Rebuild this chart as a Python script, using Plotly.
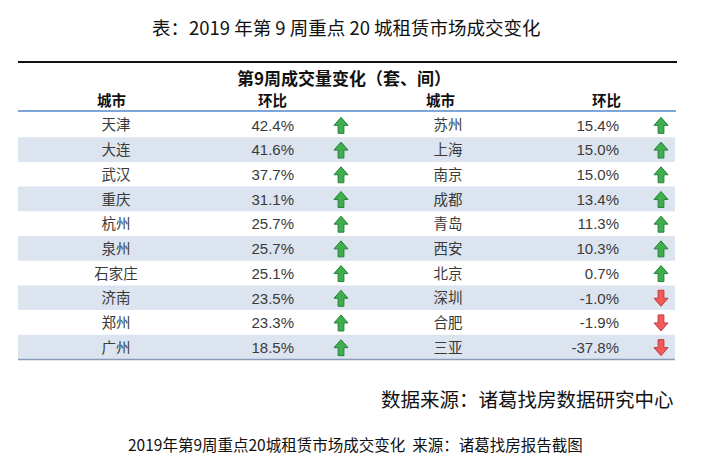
import plotly.graph_objects as go

# ---- data ----
title_text = "表：2019 年第 9 周重点 20 城租赁市场成交变化"
table_title = "第9周成交量变化（套、间）"
col_headers = ["城市", "环比", "城市", "环比"]
cities_left = ["天津", "大连", "武汉", "重庆", "杭州", "泉州", "石家庄", "济南", "郑州", "广州"]
chg_left = [42.4, 41.6, 37.7, 31.1, 25.7, 25.7, 25.1, 23.5, 23.3, 18.5]
cities_right = ["苏州", "上海", "南京", "成都", "青岛", "西安", "北京", "深圳", "合肥", "三亚"]
chg_right = [15.4, 15.0, 15.0, 13.4, 11.3, 10.3, 0.7, -1.0, -1.9, -37.8]
source_text = "数据来源：诸葛找房数据研究中心"
caption_text = "2019年第9周重点20城租赁市场成交变化  来源：诸葛找房报告截图"

# ---- layout constants ----
W, H = 707, 460
X0, X1 = 10, 667
ROW_TOP, ROW_H = 104.5, 24.7
COL_CITY = [108, 440]
COL_PCT = [286, 611]
COL_ARROW = [333, 653]
CJK = "Noto Sans CJK SC"
NUM = "Liberation Sans"
TXT = "#3a3a3a"

fig = go.Figure()
shapes = []

n = len(cities_left)
# alternating bands
for k in range(n):
    if k % 2 == 1:
        shapes.append(dict(type="rect", xref="x", yref="y", x0=X0, x1=X1,
                           y0=ROW_TOP + k * ROW_H, y1=ROW_TOP + (k + 1) * ROW_H,
                           fillcolor="#dce4ef", line=dict(width=0), layer="below"))
# rules
shapes.append(dict(type="line", xref="x", yref="y", x0=X0, x1=X1 + 2, y0=54, y1=54,
                   line=dict(color="#111111", width=2)))
shapes.append(dict(type="line", xref="x", yref="y", x0=X0, x1=X1 + 1, y0=103, y1=103,
                   line=dict(color="#7fa6d9", width=2)))
shapes.append(dict(type="line", xref="x", yref="y", x0=X0, x1=X1, y0=ROW_TOP + n * ROW_H,
                   y1=ROW_TOP + n * ROW_H, line=dict(color="#8a9bb8", width=1.5)))


def arrow_path(cx, cy, up):
    hw, sw = 7.0, 2.9   # head half-width, stem half-width
    h = 16.0
    s = -1 if up else 1
    tip = cy + s * h / 2
    base = cy - s * h / 2
    neck = cy + s * 0.0
    pts = [(cx, tip), (cx + hw, neck), (cx + sw, neck), (cx + sw, base),
           (cx - sw, base), (cx - sw, neck), (cx - hw, neck)]
    return "M " + " L ".join(f"{x:.2f},{y:.2f}" for x, y in pts) + " Z"


for side, (cities, vals) in enumerate([(cities_left, chg_left), (cities_right, chg_right)]):
    ys = [ROW_TOP + (k + 0.5) * ROW_H + 2 for k in range(n)]
    fig.add_trace(go.Scatter(x=[COL_CITY[side]] * n, y=ys, mode="text", text=cities,
                             textposition="middle center",
                             textfont=dict(family=CJK, size=14.5, color=TXT),
                             hoverinfo="skip", showlegend=False))
    fig.add_trace(go.Scatter(x=[COL_PCT[side]] * n, y=ys, mode="text",
                             text=[f"{v:.1f}%" for v in vals],
                             textposition="middle left",
                             textfont=dict(family=NUM, size=15, color=TXT),
                             hoverinfo="skip", showlegend=False))
    for k, v in enumerate(vals):
        up = v >= 0
        shapes.append(dict(type="path", xref="x", yref="y",
                           path=arrow_path(COL_ARROW[side], ROW_TOP + (k + 0.5) * ROW_H + 0.5, up),
                           fillcolor="#3fae4e" if up else "#f05a5a",
                           line=dict(color="#25803a" if up else "#c23b3b", width=1)))

# headers
hx = [COL_CITY[0] - 5, 264, COL_CITY[1] - 8, 598]
annotations = [
    dict(x=338, y=18.5, text=title_text, font=dict(family=CJK, size=18.5, color="#111111")),
    dict(x=336, y=69, text=f"<b>{table_title}</b>", font=dict(family=CJK, size=17, color="#111111")),
    dict(x=668, y=390, text=source_text, xanchor="right",
         font=dict(family=CJK, size=19.5, color="#111111")),
    dict(x=347, y=436, text=caption_text, font=dict(family=CJK, size=15.5, color="#111111")),
]
for x, t in zip(hx, col_headers):
    annotations.append(dict(x=x, y=91, text=f"<b>{t}</b>", font=dict(family=CJK, size=14.5, color="#111111")))
for a in annotations:
    a.update(xref="x", yref="y", showarrow=False, yanchor="middle")
    a.setdefault("xanchor", "center")

fig.update_layout(
    width=W, height=H, margin=dict(l=0, r=0, t=0, b=0),
    paper_bgcolor="white", plot_bgcolor="white",
    xaxis=dict(range=[0, W], visible=False, fixedrange=True),
    yaxis=dict(range=[H, 0], visible=False, fixedrange=True),
    shapes=shapes, annotations=annotations,
)
fig.write_html("out.html")
